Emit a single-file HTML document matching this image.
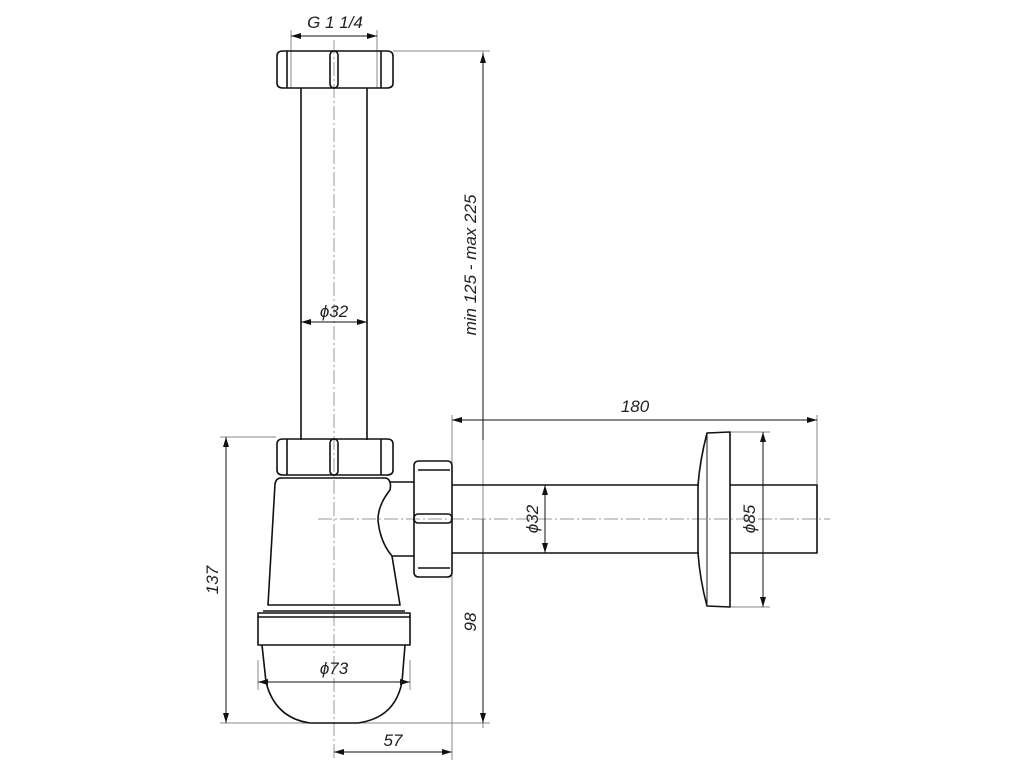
<!DOCTYPE html>
<html><head><meta charset="utf-8"><style>
html,body{margin:0;padding:0;background:#fff;}
svg{display:block}
text{font-family:"Liberation Sans",sans-serif;font-style:italic;fill:#222;font-size:17px}
</style></head><body>
<svg width="1024" height="768" viewBox="0 0 1024 768" xmlns="http://www.w3.org/2000/svg">
<defs>
<marker id="a" viewBox="0 0 10 6" refX="10" refY="3" markerWidth="10" markerHeight="6" orient="auto-start-reverse" markerUnits="userSpaceOnUse"><path d="M0,0L10,3L0,6z" fill="#111"/></marker>
</defs>
<!-- center lines -->
<g stroke="#999" stroke-width="1" stroke-dasharray="14,3,2,3" fill="none">
<line x1="334" y1="40" x2="334" y2="760"/>
<line x1="318" y1="519" x2="830" y2="519"/>
</g>
<!-- extension / dim lines -->
<g stroke="#888" stroke-width="1" fill="none">
<line x1="291" y1="30" x2="291" y2="88"/>
<line x1="377" y1="30" x2="377" y2="88"/>
<line x1="393" y1="51" x2="490" y2="51"/>
<line x1="483" y1="51" x2="483" y2="728"/>
<line x1="220" y1="437" x2="276" y2="437"/>
<line x1="220" y1="723" x2="490" y2="723"/>
<line x1="452" y1="415" x2="452" y2="760"/>
<line x1="817" y1="415" x2="817" y2="485"/>
<line x1="730" y1="432" x2="770" y2="432"/>
<line x1="730" y1="607" x2="770" y2="607"/>
<line x1="258" y1="660" x2="258" y2="690"/>
<line x1="410" y1="660" x2="410" y2="690"/>
</g>
<g stroke="#111" stroke-width="1" fill="none">
<line x1="291" y1="36" x2="377" y2="36" marker-start="url(#a)" marker-end="url(#a)"/>
<line x1="483" y1="53" x2="483" y2="440" marker-start="url(#a)"/>
<line x1="301" y1="322" x2="367" y2="322" marker-start="url(#a)" marker-end="url(#a)"/>
<line x1="226" y1="437" x2="226" y2="723" marker-start="url(#a)" marker-end="url(#a)"/>
<line x1="483" y1="519" x2="483" y2="723" marker-end="url(#a)"/>
<line x1="334" y1="752" x2="452" y2="752" marker-start="url(#a)" marker-end="url(#a)"/>
<line x1="258" y1="682" x2="410" y2="682" marker-start="url(#a)" marker-end="url(#a)"/>
<line x1="452" y1="420" x2="817" y2="420" marker-start="url(#a)" marker-end="url(#a)"/>
<line x1="545" y1="485" x2="545" y2="553" marker-start="url(#a)" marker-end="url(#a)"/>
<line x1="763" y1="432" x2="763" y2="607" marker-start="url(#a)" marker-end="url(#a)"/>
</g>
<!-- part outlines -->
<g stroke="#111" stroke-width="1.6" fill="none" stroke-linejoin="round">
<!-- top tube -->
<line x1="301" y1="88" x2="301" y2="440"/>
<line x1="367" y1="88" x2="367" y2="440"/>
<!-- top nut -->
<path d="M283,51 H387 Q393,51 393,56 V83 Q393,88 387,88 H283 Q277,88 277,83 V56 Q277,51 283,51z"/>
<line x1="287" y1="51" x2="287" y2="88"/>
<line x1="381" y1="51" x2="381" y2="88"/>
<rect x="330" y="51" width="8" height="37" rx="4"/>
<!-- lower nut -->
<path d="M283,439 H387 Q393,439 393,444 V470 Q393,475 387,475 H283 Q277,475 277,470 V444 Q277,439 283,439z"/>
<line x1="287" y1="439" x2="287" y2="475"/>
<line x1="381" y1="439" x2="381" y2="475"/>
<rect x="330" y="439" width="8" height="36" rx="4"/>
<!-- body -->
<path d="M281,478 H386 Q392,480 390,490 Q378,505 378,520 Q380,542 392,556 L400,605 H268 L275,484 Q276,478 281,478z"/>
<line x1="390" y1="482" x2="414" y2="482"/>
<line x1="392" y1="556" x2="414" y2="556"/>
<line x1="263" y1="611" x2="405" y2="611"/>
<rect x="258" y="613" width="152" height="32"/>
<line x1="258" y1="617" x2="410" y2="617"/>
<!-- bowl -->
<path d="M262,645 L266,682 Q275,718 310,723 H358 Q395,718 402,682 L405,645"/>
<!-- side nut -->
<path d="M419,461 H447 Q452,461 452,466 V572 Q452,577 447,577 H419 Q414,577 414,572 V466 Q414,461 419,461z"/>
<line x1="418" y1="470" x2="450" y2="470"/>
<line x1="418" y1="568" x2="450" y2="568"/>
<rect x="414" y="514" width="38" height="9" rx="4"/>
<!-- horizontal tube -->
<line x1="452" y1="485" x2="699" y2="485"/>
<line x1="452" y1="553" x2="699" y2="553"/>
<!-- flange -->
<path d="M707,433 L730,432 V607 L707,606 Q700,580 698,553 V485 Q700,460 707,433z"/>
<line x1="707" y1="433" x2="707" y2="606" stroke-width="1"/>
<path d="M730,485 H817 V553 H730"/>
</g>
<!-- labels -->
<text x="335" y="28" text-anchor="middle">G 1 1/4</text>
<text x="334" y="317" text-anchor="middle">ϕ32</text>
<text transform="translate(476,265) rotate(-90)" text-anchor="middle">min 125 - max 225</text>
<text transform="translate(218,580) rotate(-90)" text-anchor="middle">137</text>
<text transform="translate(476,622) rotate(-90)" text-anchor="middle">98</text>
<text x="334" y="674" text-anchor="middle">ϕ73</text>
<text x="393" y="746" text-anchor="middle">57</text>
<text x="635" y="412" text-anchor="middle">180</text>
<text transform="translate(538,519) rotate(-90)" text-anchor="middle">ϕ32</text>
<text transform="translate(755,519) rotate(-90)" text-anchor="middle">ϕ85</text>
</svg>
</body></html>
